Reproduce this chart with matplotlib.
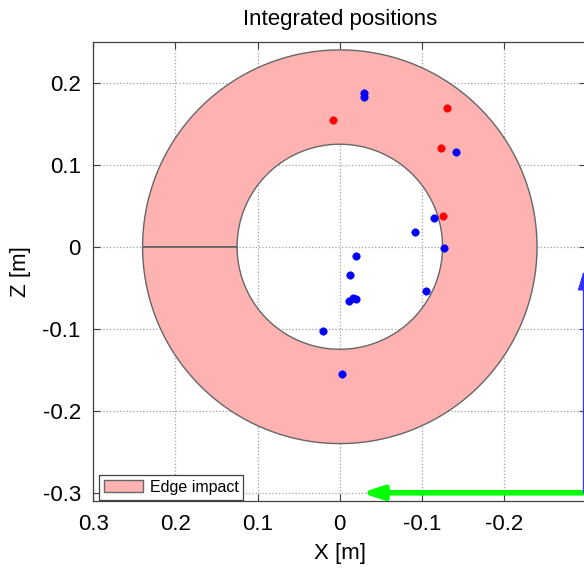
import numpy as np
import matplotlib
matplotlib.use("Agg")
import matplotlib.pyplot as plt

plt.rcParams['font.family'] = ['Liberation Sans', 'DejaVu Sans']
plt.rcParams['axes.unicode_minus'] = False

# ring (edge impact zone)
r_outer = 0.24
r_inner = 0.125

# integrated positions [m]
blue_x = [-0.030, -0.029, -0.142, -0.115, -0.091, -0.127, -0.020, -0.012,
          -0.016, -0.020, -0.011, -0.105, 0.020, -0.003]
blue_z = [0.187, 0.182, 0.115, 0.035, 0.018, -0.002, -0.011, -0.034,
          -0.062, -0.064, -0.066, -0.054, -0.103, -0.155]
red_x = [0.008, -0.130, -0.123, -0.126]
red_z = [0.154, 0.169, 0.121, 0.038]

# frame arrows
origin = (-0.2965, -0.300)
arrow_len = 0.27

fig = plt.figure(figsize=(5.84, 5.73), dpi=100)
ax = fig.add_axes([93.3 / 584, 72 / 573, 493 / 584, 459.3 / 573])

ax.set_axisbelow(True)
ax.grid(True, linestyle=':', color='#a0a0a0', linewidth=0.9)

t = np.linspace(0, 2 * np.pi, 400)
ring_x = np.concatenate([r_outer * np.cos(t), r_inner * np.cos(t[::-1])])
ring_z = np.concatenate([r_outer * np.sin(t), r_inner * np.sin(t[::-1])])
ax.fill(ring_x, ring_z, facecolor='#ffb2b2', edgecolor='#666666',
        linewidth=1.0, label='Edge impact', zorder=1)

ax.plot(blue_x, blue_z, 'o', color='#0000ff', ms=5.3, mew=0.5, zorder=3)
ax.plot(red_x, red_z, 'o', color='#ff0000', ms=5.3, mew=0.5, zorder=3)

ax.annotate('', xy=(origin[0] + arrow_len, origin[1]), xytext=origin,
            arrowprops=dict(arrowstyle='-|>,head_length=1.2,head_width=0.4',
                            color='#00ff00', lw=4, mutation_scale=10,
                            shrinkA=0, shrinkB=0), zorder=4)
ax.annotate('', xy=(origin[0], origin[1] + arrow_len), xytext=origin,
            arrowprops=dict(arrowstyle='-|>,head_length=1.2,head_width=0.36',
                            color='#3030ff', lw=0.8, mutation_scale=10,
                            shrinkA=0, shrinkB=0), zorder=4)

ax.set_xlim(0.3, -0.3)
ax.set_ylim(-0.31, 0.25)
ax.set_xticks([0.3, 0.2, 0.1, 0, -0.1, -0.2, -0.3])
ax.set_xticklabels(['0.3', '0.2', '0.1', '0', '-0.1', '-0.2', ''])
ax.set_yticks([-0.3, -0.2, -0.1, 0, 0.1, 0.2])
ax.set_yticklabels(['-0.3', '-0.2', '-0.1', '0', '0.1', '0.2'])
ax.tick_params(direction='in', length=5, width=0.8, color='#404040',
               labelsize=16, top=True, right=True, pad=9)
for s in ax.spines.values():
    s.set_color('#404040')
    s.set_linewidth(0.9)

ax.set_title('Integrated positions', fontsize=16, pad=12)
ax.set_xlabel('X [m]', fontsize=16, labelpad=6)
ax.set_ylabel('Z [m]', fontsize=16, labelpad=8)

leg = ax.legend(loc='lower left', bbox_to_anchor=(0.012, 0.003),
                borderaxespad=0, fontsize=11.5, fancybox=False,
                framealpha=1, edgecolor='#404040', handlelength=2.45,
                handleheight=0.8, borderpad=0.3, handletextpad=0.4)
leg.get_frame().set_linewidth(0.9)

fig.savefig('out.png', dpi=100)
